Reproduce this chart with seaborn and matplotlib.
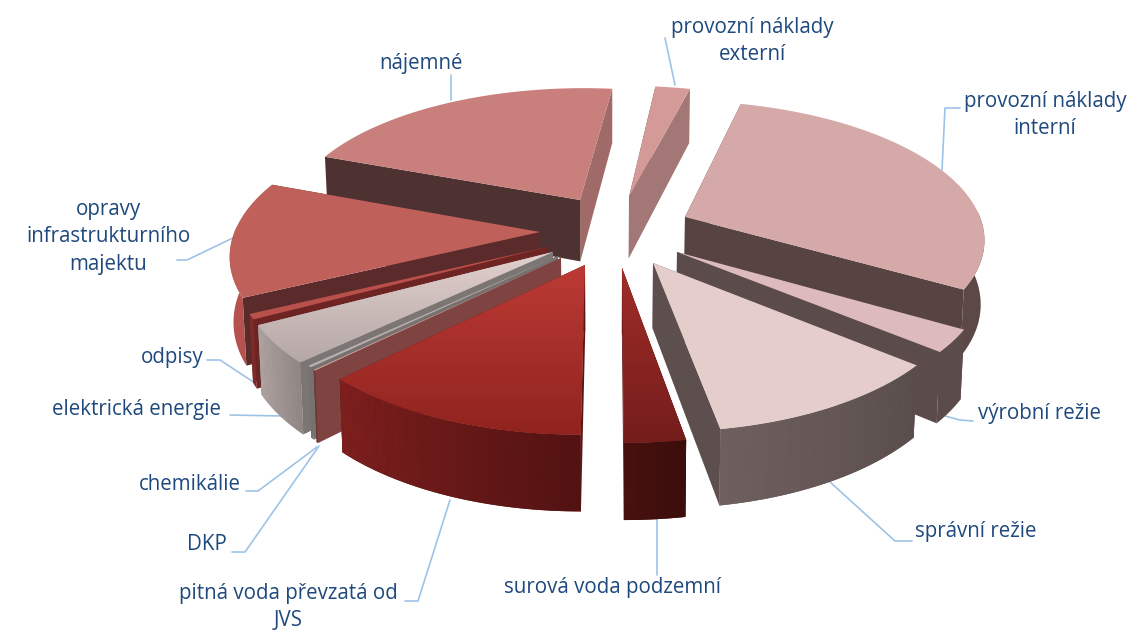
import numpy as np
import seaborn as sns
from matplotlib import pyplot as plt
from matplotlib.patches import Polygon

# clockwise from the top, starting with "provozni naklady externi"
labels = ["provozní náklady\nexterní", "provozní náklady\ninterní", "výrobní režie", "správní režie",
          "surová voda podzemní", "pitná voda převzatá od\nJVS", "DKP", "chemikálie",
          "elektrická energie", "odpisy", "opravy\ninfrastrukturního\nmajektu", "nájemné"]
shares = [2.2, 29.5, 2.6, 11.2, 2.7, 12.5, 0.1, 0.2, 4.3, 0.6, 13.1, 21.0]

# where each exploded slice has its tip on the picture, and its radius
tips_x = [629, 685, 677, 653, 622, 585, 561, 558, 553, 547, 540, 580]
tips_y = [197, 217, 252, 263, 268, 265, 258, 256, 252, 247, 232, 200]
radii = [300, 302, 300, 300, 306, 300, 300, 300, 304, 304, 308, 300]

start_angle = 6.5
cx, cy = 610, 240
tilt = 0.46
persp = 0.00047
height = 64

# top face (near tip, far edge), start wall, end wall, outer wall (left, right)
top_colors = [("#D49A97", "#D49A97"), ("#D6A9A9", "#D6A9A9"), ("#DDBBBD", "#DDBBBD"), ("#E5CDCB", "#E5CDCB"),
              ("#A02D29", "#741D1B"), ("#BC3A34", "#90231F"), ("#C8A8A0", "#C8A8A0"), ("#B8B0AE", "#B8B0AE"),
              ("#E2D0CE", "#B5A8A6"), ("#B8504C", "#B8504C"), ("#C0605B", "#C0605B"), ("#C97F7B", "#C97F7B")]
side_colors = ["#6E5250", "#564342", "#5C4B4B", "#5D4F4E", "#40100E", "#5A1614", "#7F4341", "#777170",
               "#7B7573", "#6E2422", "#5A2B2A", "#4E3232"]
end_colors = ["#A27776", "#564342", "#5C4B4B", "#5D4F4E", "#6A1A18", "#5A1614", "#6A3A38", "#777170",
              "#7B7573", "#6E2422", "#5A2B2A", "#A06A68"]
outer_colors = [("#A27776", "#A27776"), ("#5C4847", "#5C4847"), ("#5C4B4B", "#5C4B4B"), ("#6E605F", "#594D4C"),
                ("#47110F", "#3B0D0B"), ("#7E201E", "#521212"), ("#6A3A38", "#6A3A38"), ("#777170", "#777170"),
                ("#B0A5A3", "#8F8583"), ("#7E2A28", "#7E2A28"), ("#B5524F", "#B5524F"), ("#A06A68", "#A06A68")]
draw_order = [11, 0, 1, 10, 2, 9, 8, 7, 6, 3, 4, 5]

label_xy = [(752, 41), (1045, 115), (1040, 413), (976, 532), (613, 587), (288, 607),
            (207, 545), (190, 484), (137, 409), (172, 357), (108, 237), (421, 63)]
leaders = [[(665, 38), (675, 85)],
           [(960, 108), (945, 108), (942, 170)],
           [(973, 421), (960, 420), (945, 416)],
           [(912, 541), (895, 541), (830, 482)],
           [(657, 575), (657, 515)],
           [(405, 601), (418, 601), (450, 500)],
           [(232, 552), (245, 552), (319, 446)],
           [(246, 491), (258, 491), (317, 447)],
           [(230, 415), (283, 416)],
           [(207, 360), (220, 360), (258, 385)],
           [(177, 260), (187, 260), (235, 237)],
           [(451, 75), (451, 100)]]


def project(X, Y):
    s = 1 / (1 - persp * Y)
    return cx + X * s, cy + tilt * Y * s, s


def unproject(x, y):
    u = y - cy
    Y = u / (tilt + persp * u)
    return (x - cx) * (1 - persp * Y), Y


def top_xy(X, Y):
    x, y, s = project(X, Y)
    return np.column_stack([x, y])


def bottom_xy(X, Y):
    x, y, s = project(X, Y)
    return np.column_stack([cx + (x - cx) * 0.99, y + height * s])


def add_wall(ax, X, Y, c1, c2):
    t, b = top_xy(X, Y), bottom_xy(X, Y)
    mid = sns.blend_palette([c1, c2], 3)[1]
    ax.add_patch(Polygon(np.r_[t, b[::-1]], closed=True, fc=mid, ec="none"))
    if c1 == c2:
        return
    # strip of quads so the gradient follows the wall
    pal = sns.blend_palette([c1, c2], len(X) - 1)
    for i in range(len(X) - 1):
        ax.add_patch(Polygon([t[i], t[i + 1], b[i + 1], b[i]], closed=True, fc=pal[i], ec="none"))


def draw_slice(ax, i, a0, a1):
    ox, oy = unproject(tips_x[i], tips_y[i])
    th = np.radians(np.linspace(a0, a1, max(int(a1 - a0) * 2, 3)))
    arc_x = ox + radii[i] * np.sin(th)
    arc_y = oy - radii[i] * np.cos(th)

    # radial walls first, whichever is further back goes down first
    walls = [(arc_x[0], arc_y[0], side_colors[i]), (arc_x[-1], arc_y[-1], end_colors[i])]
    walls.sort(key=lambda w: w[1])
    for ex, ey, col in walls:
        add_wall(ax, np.linspace(ox, ex, 6), np.linspace(oy, ey, 6), col, col)

    # the rim only shows on the front half
    front = np.cos(th) < 0.05
    if front.sum() > 1:
        c1, c2 = outer_colors[i]
        if arc_x[front][0] > arc_x[front][-1]:
            c1, c2 = c2, c1
        add_wall(ax, arc_x[front], arc_y[front], c1, c2)

    pts = top_xy(np.r_[ox, arc_x], np.r_[oy, arc_y])
    c1, c2 = top_colors[i]
    ax.add_patch(Polygon(pts, closed=True, fc=c2, ec="none"))
    if c1 == c2:
        return None
    # gradient runs downwards on screen
    poly = Polygon(pts, closed=True, fc="none", ec="none")
    ax.add_patch(poly)
    grad = np.array(sns.blend_palette([c1, c2], 64))[:, None, :]
    ext = [pts[:, 0].min(), pts[:, 0].max(), pts[:, 1].max(), pts[:, 1].min()]
    im = ax.imshow(grad, extent=ext, origin="upper", aspect="auto")
    im.set_clip_path(poly)
    return im


sns.set_theme(style="white")
plt.rcParams['font.family'] = ['Open Sans', 'DejaVu Sans']

fig, ax = plt.subplots(figsize=(11.32, 6.3), dpi=100)
fig.subplots_adjust(0, 0, 1, 1)

spans = np.array(shares) / sum(shares) * 360
starts = start_angle + np.r_[0, np.cumsum(spans)[:-1]]

# painter's order, back to front; zorder keeps imshow tops in the same sequence
for z, i in enumerate(draw_order):
    n_before = len(ax.patches)
    im = draw_slice(ax, i, starts[i], starts[i] + spans[i])
    for p in ax.patches[n_before:]:
        p.set_zorder(2 + z)
    if im is not None:
        im.set_zorder(2 + z + 0.5)

for pts in leaders:
    ax.plot(*zip(*pts), color="#9DC3E6", lw=1.2, zorder=1)

for name, (x, y) in zip(labels, label_xy):
    ax.text(x, y, name, ha="center", va="center", fontsize=14.8, color="#1F497D", linespacing=1.4, zorder=30)

ax.set_xlim(0, 1132)
ax.set_ylim(630, 0)
ax.axis("off")
fig.savefig("out.png", dpi=100)
